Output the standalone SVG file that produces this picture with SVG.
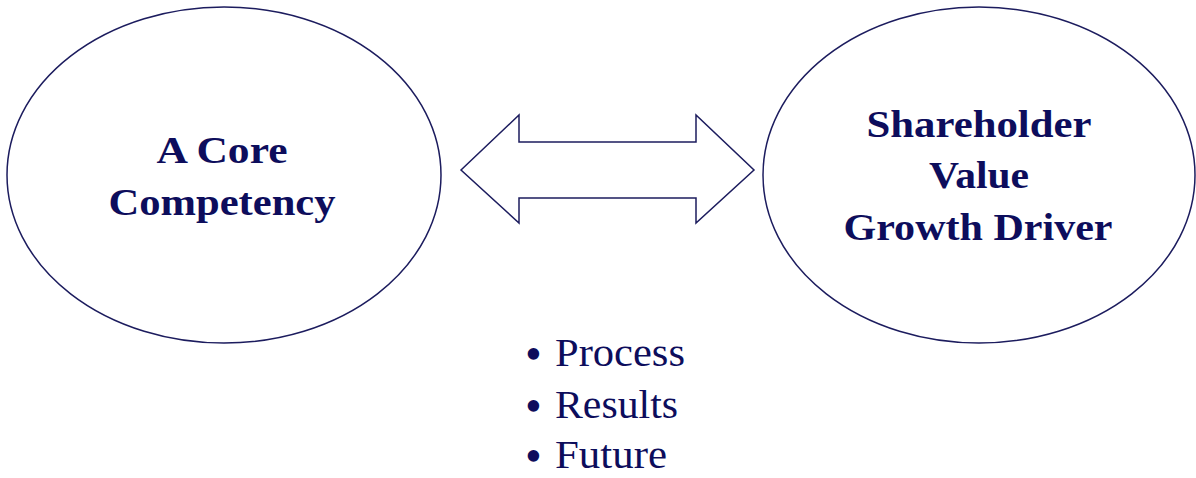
<svg xmlns="http://www.w3.org/2000/svg" width="1196" height="478" viewBox="0 0 1196 478">
<style>
.shape{fill:#ffffff;stroke:#1c1c5e;stroke-width:1.5}
.title{font-family:"Liberation Serif","Times New Roman",serif;font-weight:bold;font-size:38px;fill:#0d0d5c;text-anchor:middle}
.bullet{font-family:"Liberation Serif","Times New Roman",serif;font-size:40px;fill:#0d0d5c}
.mark{font-size:48px}
</style>
<rect width="1196" height="478" fill="#ffffff"/>
<g id="node-core">
<ellipse class="shape" cx="224" cy="175" rx="217" ry="168"/>
<text class="title" x="222" y="163" textLength="131" lengthAdjust="spacingAndGlyphs">A Core</text>
<text class="title" x="222" y="215" textLength="227" lengthAdjust="spacingAndGlyphs">Competency</text>
</g>
<g id="node-shareholder">
<ellipse class="shape" cx="979" cy="175" rx="216" ry="168"/>
<text class="title" x="979" y="137" textLength="225" lengthAdjust="spacingAndGlyphs">Shareholder</text>
<text class="title" x="979" y="188" textLength="100" lengthAdjust="spacingAndGlyphs">Value</text>
<text class="title" x="978" y="240" textLength="269" lengthAdjust="spacingAndGlyphs">Growth Driver</text>
</g>
<g id="connectors">
<polygon class="shape" points="461,170 519,115 519,142 696,142 696,115 754,170 696,223 696,198 519,198 519,223"/>
</g>
<g id="bullets">
<text class="bullet" x="525" y="366"><tspan class="mark" dy="4">•</tspan><tspan x="555" dy="-4" textLength="130" lengthAdjust="spacingAndGlyphs">Process</tspan></text>
<text class="bullet" x="525" y="418"><tspan class="mark" dy="4">•</tspan><tspan x="555" dy="-4" textLength="123" lengthAdjust="spacingAndGlyphs">Results</tspan></text>
<text class="bullet" x="525" y="468"><tspan class="mark" dy="4">•</tspan><tspan x="555" dy="-4" textLength="112" lengthAdjust="spacingAndGlyphs">Future</tspan></text>
</g>
</svg>
